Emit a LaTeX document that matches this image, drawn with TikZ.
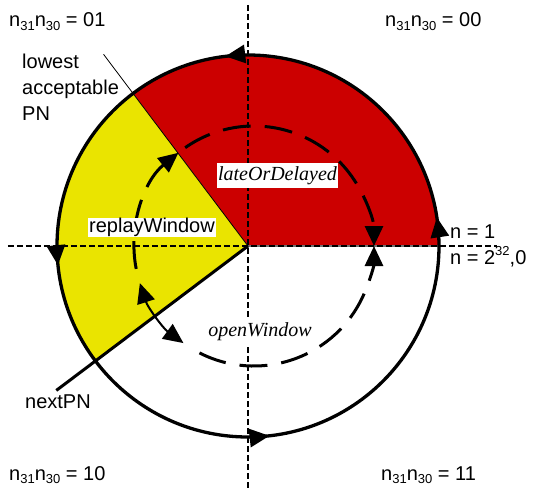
\documentclass[tikz,border=0pt]{standalone}
\usepackage{fontspec}
\setmainfont{Liberation Sans}
\newfontfamily\serifit{Liberation Serif}
\definecolor{latered}{RGB}{204,0,0}
\definecolor{replayyel}{RGB}{234,228,0}
\usetikzlibrary{arrows.meta,positioning,calc,decorations.markings}
\newcommand{\nsub}[1]{\raisebox{-3.5pt}{\fontsize{13}{13}\selectfont #1}}
\newcommand{\nquad}[1]{n\nsub{31}n\nsub{30} = #1}

\begin{document}
\begin{tikzpicture}[x=1pt,y=1pt,font=\fontsize{20}{26}\selectfont,
  ring/.style={line width=3.3pt},
  axis/.style={line width=1.2pt,dash pattern=on 6pt off 3pt},
  walk/.style={line width=3pt,dash pattern=on 28pt off 14pt},
  bigtip/.style={-{Triangle[length=20pt,width=18pt]}},
  lbl/.style={anchor=base west,inner sep=0pt},
  wbox/.style={fill=white,inner xsep=1.5pt,inner ysep=3pt}]
\useasboundingbox (-248,-242) rectangle (287,246);
\coordinate (c) at (0,0);
\coordinate (ic) at (6,0);
\coordinate (lowend) at (127:240);
\coordinate (nextend) at (217:240);
% sectors
\fill[latered] (c) -- (191,0) arc[start angle=0,end angle=127,radius=191] -- cycle;
\fill[replayyel] (c) -- (127:191) arc[start angle=127,end angle=217,radius=191] -- cycle;
\draw[line width=2.5pt,black!55] (c) -- (191,0);
% axes
\draw[axis] (0,241) -- (0,-242);
\draw[axis] (-240,0) -- (249,0);
% window edges
\draw[line width=0.8pt] (c) -- (lowend);
\draw[line width=3pt] (c) -- (nextend);
% sequence number ring
\draw[ring,postaction={decorate},decoration={markings,
  mark=at position 0.024 with {\arrow{Triangle[length=20pt,width=18pt]}},
  mark=at position 0.269 with {\arrow{Triangle[length=20pt,width=18pt]}},
  mark=at position 0.516 with {\arrow{Triangle[length=20pt,width=18pt]}},
  mark=at position 0.768 with {\arrow{Triangle[length=20pt,width=18pt]}}}]
  (191,0) arc[start angle=0,end angle=360,radius=191];
% inner walks
\draw[walk,bigtip] ($(ic)+(191:120)$) arc[start angle=191,end angle=129,radius=120];
\draw[walk,bigtip] ($(ic)+(125:120)$) arc[start angle=125,end angle=0,radius=120];
\draw[walk,bigtip] ($(ic)+(243:120)$) arc[start angle=243,end angle=360,radius=120];
\draw[line width=2pt,{Triangle[length=20pt,width=18pt]}-{Triangle[length=20pt,width=18pt]}]
  ($(ic)+(234:120)$) arc[start angle=234,end angle=198,radius=120];
% labels
\node[wbox,inner ysep=0.5pt] (replay) at (-96,18.5) {replayWindow};
\node[wbox] (late) at (29.5,70.5) {\serifit\itshape lateOrDelayed};
\node[wbox] (open) at (12,-86) {\serifit\itshape openWindow};
\node[lbl] (q01) at (-239,219) {\nquad{01}};
\node[lbl] (q00) at (137,219) {\nquad{00}};
\node[lbl] (q10) at (-239,-234) {\nquad{10}};
\node[lbl] (q11) at (133,-234) {\nquad{11}};
\node[anchor=north west,inner sep=0pt,align=left] (lowest) at (-226,192) {lowest\\acceptable\\PN};
\node[lbl] (nextpn) at (-223,-162) {nextPN};
\node[lbl] (none) at (202,8) {n = 1};
\node[lbl] (nzero) at (202,-18) {n = 2\raisebox{9pt}{\fontsize{13}{13}\selectfont 32},0};
\end{tikzpicture}
\end{document}
